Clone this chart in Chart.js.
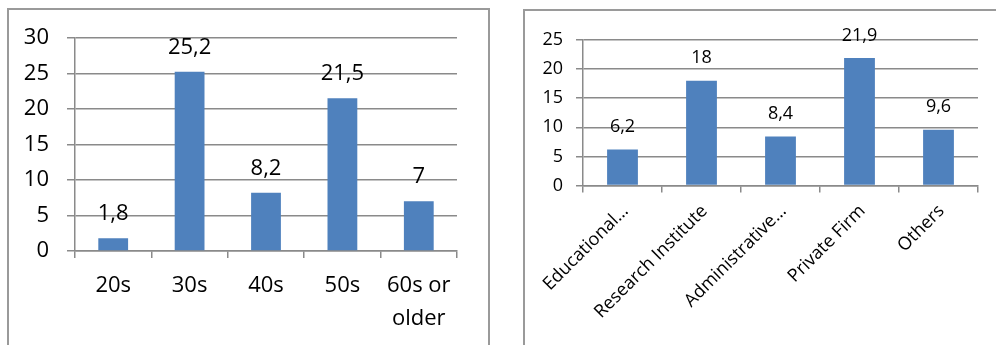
<!DOCTYPE html>
<html>
<head>
<meta charset="utf-8">
<script src="https://cdn.jsdelivr.net/npm/chart.js@4/dist/chart.umd.min.js"></script>
<style>
  html, body { margin: 0; padding: 0; background: #fff; width: 996px; height: 345px; overflow: hidden; }
  .frame { position: absolute; border: 2px solid #9a9a9a; box-sizing: border-box; background: #fff; }
  canvas { position: absolute; }
</style>
</head>
<body>
<div class="frame" style="left:7px; top:8px; width:483px; height:360px;"></div>
<div class="frame" style="left:523px; top:9px; width:490px; height:360px;"></div>
<canvas id="age" width="475" height="334" style="left:10px; top:11px;"></canvas>
<canvas id="work" width="471" height="334" style="left:525px; top:11px;"></canvas>
<script>
// Age groups
const ageLabels = ['20s', '30s', '40s', '50s', ['60s or', 'older']];
const ageValues = [1.8, 25.2, 8.2, 21.5, 7];
const ageTicks = { min: 0, max: 30, step: 5 };

// Workplace types
const workLabels = ['Educational…', 'Research Institute', 'Administrative…', 'Private Firm', 'Others'];
const workValues = [6.2, 18, 8.4, 21.9, 9.6];
const workTicks = { min: 0, max: 25, step: 5 };

const BAR = '#4F81BD';
const GRID = '#8a8a8a';
const FONT = '"Open Sans", "DejaVu Sans", sans-serif';

// Decimal comma, as in the printed values
const fmt = v => String(v).replace('.', ',');

// Draws each bar's value above it
const valueLabels = {
  id: 'valueLabels',
  afterDatasetsDraw(chart, args, opts) {
    const ctx = chart.ctx;
    const meta = chart.getDatasetMeta(0);
    const data = chart.data.datasets[0].data;
    ctx.save();
    ctx.font = opts.size + 'px ' + FONT;
    ctx.fillStyle = '#000';
    ctx.textAlign = 'center';
    ctx.textBaseline = 'alphabetic';
    meta.data.forEach((bar, i) => {
      ctx.fillText(fmt(data[i]), bar.x, bar.y - opts.gap);
    });
    ctx.restore();
  }
};

function makeChart(id, labels, values, ticks, cfg) {
  return new Chart(document.getElementById(id), {
    type: 'bar',
    data: {
      labels: labels,
      datasets: [{
        data: values,
        backgroundColor: BAR,
        borderWidth: 0,
        categoryPercentage: 1,
        barPercentage: 0.39
      }]
    },
    options: {
      responsive: false,
      animation: false,
      events: [],
      layout: { padding: { top: cfg.padTop, right: cfg.padRight, left: 0, bottom: 0 } },
      plugins: {
        legend: { display: false },
        tooltip: { enabled: false },
        valueLabels: { size: cfg.font, gap: cfg.labelGap }
      },
      scales: {
        x: {
          grid: { display: true, drawOnChartArea: false, drawTicks: true, tickLength: 7, color: GRID, lineWidth: 1.5, offset: true },
          border: { display: true, color: GRID, width: 1.5 },
          ticks: {
            color: '#000',
            font: { family: FONT, size: cfg.font, lineHeight: cfg.xLine },
            padding: cfg.xPad,
            autoSkip: false,
            minRotation: cfg.rot,
            maxRotation: cfg.rot,
            labelOffset: cfg.xOffset
          },
          afterFit: s => {
            s.height = cfg.xHeight;
            s.paddingLeft = 0;
            s.paddingRight = 0;
          }
        },
        y: {
          min: ticks.min,
          max: ticks.max,
          grid: { color: GRID, lineWidth: 1.5, tickLength: cfg.yTick, drawTicks: true },
          border: { display: true, color: GRID, width: 1.5 },
          ticks: {
            stepSize: ticks.step,
            color: '#000',
            font: { family: FONT, size: cfg.font },
            padding: cfg.yPad
          },
          afterFit: s => {
            s.width = cfg.yWidth;
            s.paddingTop = 0;
            s.paddingBottom = 0;
          }
        }
      }
    },
    plugins: [valueLabels]
  });
}

makeChart('age', ageLabels, ageValues, ageTicks, {
  padTop: 26.7, padRight: 28, font: 22, xLine: 1.5, xPad: 11.5, rot: 0, xOffset: 0,
  xHeight: 94, yTick: 8, yPad: 18, yWidth: 65, labelGap: 18
});

makeChart('work', workLabels, workValues, workTicks, {
  padTop: 29, padRight: 18, font: 18, xLine: 1.2, xPad: 8, rot: 45, xOffset: 3,
  xHeight: 159.5, yTick: 7, yPad: 13, yWidth: 58, labelGap: 17.5
});
</script>
</body>
</html>
